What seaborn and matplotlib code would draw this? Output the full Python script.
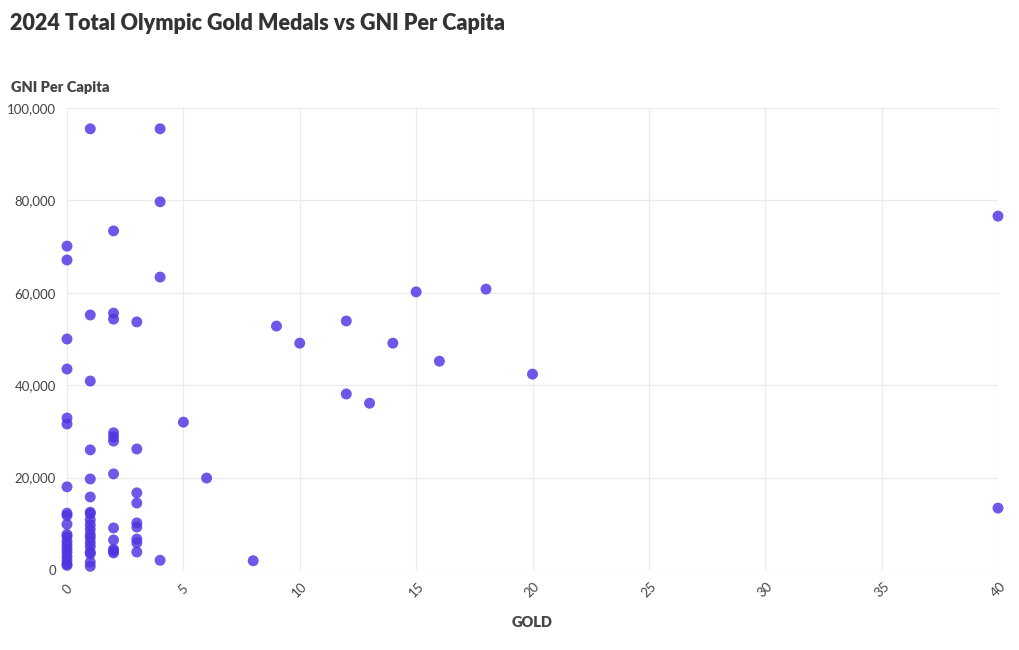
import matplotlib
matplotlib.use("Agg")
import matplotlib.pyplot as plt
import matplotlib.ticker as mticker
import seaborn as sns
import pandas as pd

# gold medals and GNI per capita
gold_0 = [0] * 20
gni_0 = [70100, 67100, 50000, 43500, 32900, 31600, 18000,
         12300, 11800, 9900, 7700, 7200, 6200, 5400, 4600, 3800, 2900, 2100, 1300, 1000]
gold_1 = [1] * 19
gni_1 = [95500, 55200, 40900, 26000, 19700, 15800,
         12500, 12200, 10900, 9800, 8800, 7700, 7000, 6000, 5100, 3900, 3500, 1700, 800]
gold_2 = [2] * 12
gni_2 = [73400, 55600, 54300, 29700, 28800, 27900, 20800, 9100, 6500, 4500, 4100, 3700]
gold_3 = [3] * 9
gni_3 = [53700, 26200, 16700, 14500, 10200, 9300, 6700, 5900, 3900]
gold_rest = [4, 4, 4, 4, 5, 6, 8, 9, 10, 12, 12, 13, 14, 15, 16, 18, 20, 40, 40]
gni_rest = [95500, 79700, 63400, 2100, 32000, 19900, 2000, 52800, 49100, 53900, 38100,
            36100, 49100, 60200, 45200, 60800, 42400, 76600, 13400]

df = pd.DataFrame({
    "GOLD": gold_0 + gold_1 + gold_2 + gold_3 + gold_rest,
    "GNI": gni_0 + gni_1 + gni_2 + gni_3 + gni_rest,
})

sns.set_style("white")
plt.rcParams["font.family"] = ["Lato", "DejaVu Sans"]

fig = plt.figure(figsize=(10.2, 6.5), dpi=100)
ax = fig.add_axes([67 / 1020, 1 - 570 / 650, (998 - 67) / 1020, (570 - 108) / 650])

sns.scatterplot(data=df, x="GOLD", y="GNI", ax=ax, color="#4f33e2", alpha=0.82,
                s=62, edgecolor="none", clip_on=False, zorder=3)

ax.set_xlim(0, 40)
ax.set_ylim(0, 100000)
ax.set_xticks(range(0, 41, 5))
ax.set_yticks(range(0, 100001, 20000))
ax.yaxis.set_major_formatter(mticker.FuncFormatter(lambda v, p: f"{int(v):,}"))
ax.grid(True, color="#ebebeb", linewidth=0.9)
ax.set_axisbelow(True)
for s in ax.spines.values():
    s.set_visible(False)
ax.tick_params(axis="both", length=0, labelsize=9.5, labelcolor="#444444")
ax.tick_params(axis="y", pad=8)
ax.tick_params(axis="x", pad=14)
for lab in ax.get_xticklabels():
    lab.set_rotation(45)
    lab.set_ha("center")
    lab.set_va("center")

ax.set_xlabel("GOLD", fontsize=10.5, fontweight="heavy", color="#444444", labelpad=12)
ax.set_ylabel("")
fig.text(10 / 1020, 1 - 24 / 650, "2024 Total Olympic Gold Medals vs GNI Per Capita",
         fontsize=15.5, fontweight="heavy", color="#333333", va="center", ha="left")
fig.text(11 / 1020, 1 - 87 / 650, "GNI Per Capita", fontsize=10.5, fontweight="heavy",
         color="#444444", va="center", ha="left")

fig.savefig("out.png", dpi=100)
